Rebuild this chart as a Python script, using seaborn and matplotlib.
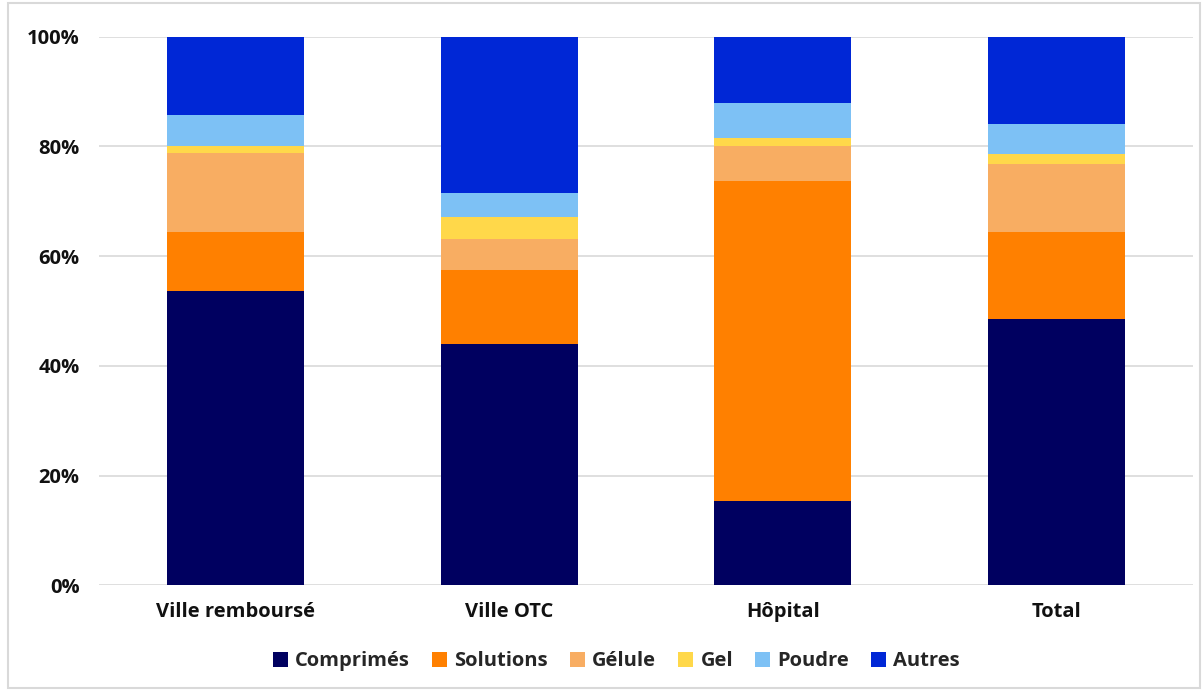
import numpy as np
import pandas as pd
import matplotlib
matplotlib.use("Agg")
import matplotlib.pyplot as plt
from matplotlib.patches import Patch, Rectangle
import seaborn as sns

# -- data (parts in %)
categories = ["Ville remboursé", "Ville OTC", "Hôpital", "Total"]
formes = ["Comprimés", "Solutions", "Gélule", "Gel", "Poudre", "Autres"]
comprimes = [53.6, 44.0, 15.4, 48.5]
solutions = [10.8, 13.5, 58.3, 15.9]
gelule = [14.4, 5.6, 6.4, 12.4]
gel = [1.3, 4.0, 1.5, 1.9]
poudre = [5.6, 4.4, 6.3, 5.3]
autres = [14.3, 28.5, 12.1, 16.0]
y_ticks = [0, 20, 40, 60, 80, 100]

colors = ["#000060", "#FF8000", "#F8AD62", "#FFD84A", "#7DC1F5", "#0027D6"]

sns.set_theme(style="white")
plt.rcParams["font.family"] = ["Open Sans", "DejaVu Sans"]

fig = plt.figure(figsize=(12.04, 6.91), dpi=100)
ax = fig.add_axes([0.0822, 0.1527, 0.9088, 0.7942])

parts = np.array([comprimes, solutions, gelule, gel, poudre, autres])
cum = np.cumsum(parts, axis=0)

# stacked bars: draw the cumulative tops, largest first
for i in range(len(formes) - 1, -1, -1):
	df = pd.DataFrame({"cat": categories, "val": cum[i]})
	sns.barplot(data=df, x="cat", y="val", color=colors[i], width=0.5,
				saturation=1, linewidth=0, ax=ax, zorder=2)

ax.set_ylim(0, 100)
ax.set_xlim(-0.5, 3.5)
ax.set_yticks(y_ticks)
ax.set_yticklabels([f"{t}%" for t in y_ticks], fontsize=14.5, fontweight="bold", color="#111111")
ax.set_xticklabels(categories, fontsize=14.5, fontweight="bold", color="#111111")
ax.set_xlabel("")
ax.set_ylabel("")
ax.yaxis.grid(True, color="#d9d9d9", lw=1.2, zorder=0)
ax.set_axisbelow(True)
ax.tick_params(axis="both", length=0, pad=14)
ax.tick_params(axis="x", pad=12)
for s in ax.spines.values():
	s.set_visible(False)

handles = [Patch(facecolor=c, edgecolor="none") for c in colors]
fig.legend(handles, formes, loc="center", bbox_to_anchor=(0.512, 0.043), ncol=6,
		   frameon=False, handlelength=0.75, handleheight=0.75, handletextpad=0.35,
		   columnspacing=1.1, prop={"size": 14.5, "weight": "bold"})

# light frame around the picture
fig.patches.append(Rectangle((0.007, 0.005), 0.99, 0.99, transform=fig.transFigure,
							 fill=False, edgecolor="#d9d9d9", lw=1.5))

fig.savefig("out.png", dpi=100)
